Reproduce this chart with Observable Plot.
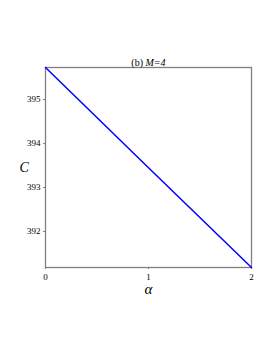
<!DOCTYPE html>
<html><head><meta charset="utf-8">
<script src="https://cdn.jsdelivr.net/npm/d3@7"></script>
<script src="https://cdn.jsdelivr.net/npm/@observablehq/plot@0.6"></script>
<style>body{margin:0;background:#fff}</style>
</head><body><div id="chart"></div>
<script>
const alphaVals = [0, 1, 2];
const cVals = [395.73, 393.45, 391.18];
const xTicks = [0, 1, 2];
const yTicks = [392, 393, 394, 395];
const title = "(b) ";
const titleM = "M=4";
const data = alphaVals.map((a, i) => ({a, c: cVals[i]}));
const font = "Liberation Serif, Times New Roman, serif";
const gray = "#808080";
const fmt = d3.format("d");
const plot = Plot.plot({
  width: 273, height: 353,
  marginLeft: 45, marginRight: 22, marginTop: 67, marginBottom: 86,
  style: {fontFamily: font, fontSize: "9px", color: "#000", background: "#fff"},
  x: {domain: [0, 2], label: null},
  y: {domain: [391.18, 395.73], label: null},
  marks: [
    Plot.frame({stroke: gray, strokeWidth: 1.3}),
    Plot.axisX({ticks: xTicks, tickFormat: fmt, tickSize: 2, tickPadding: 4, stroke: gray, label: null}),
    Plot.axisY({ticks: yTicks, tickFormat: fmt, tickSize: 2, tickPadding: 3, stroke: gray, label: null}),
    Plot.line(data, {x: "a", y: "c", stroke: "#0000ff", strokeWidth: 1.5}),
    Plot.text([0], {frameAnchor: "top", dy: -2, dx: -3, lineAnchor: "bottom", text: () => title, textAnchor: "end", fontSize: 10}),
    Plot.text([0], {frameAnchor: "top", dy: -2, dx: -3, lineAnchor: "bottom", text: () => titleM, textAnchor: "start", fontSize: 10, fontStyle: "italic"}),
    Plot.text([0], {frameAnchor: "left", dx: -26, dy: 0, text: () => "C", fontSize: 14, fontStyle: "italic"}),
    Plot.text([0], {frameAnchor: "bottom", dy: 26, text: () => "α", fontSize: 15, fontStyle: "italic"})
  ]
});
document.getElementById("chart").append(plot);
</script>
</body></html>
